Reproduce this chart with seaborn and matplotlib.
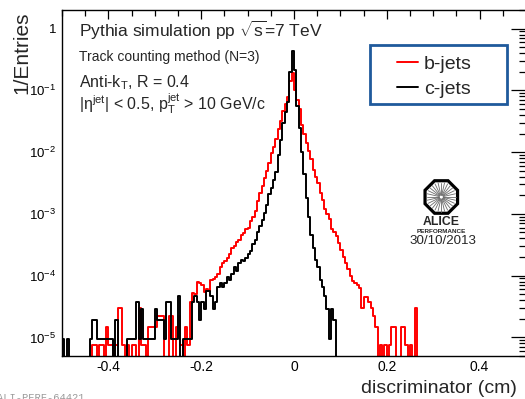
import numpy as np
import pandas as pd
import matplotlib
matplotlib.use("Agg")
import matplotlib.pyplot as plt
import seaborn as sns
from matplotlib.patches import Rectangle, RegularPolygon
from matplotlib.ticker import FixedLocator, FixedFormatter, MultipleLocator, LogLocator, NullFormatter

# ---------------------------------------------------------------- data
# Track-counting discriminator, 200 bins of 0.005 cm between -0.5 and 0.5,
# each histogram normalised to its number of entries.
x_range = (-0.5, 0.5)
n_bins = 200

b_jets = [
    0, 0, 0, 0, 0, 0, 0, 0, 0, 0,
    0, 0, 0, 7.5e-6, 7.5e-6, 0, 7.5e-6, 7.5e-6, 0, 1.5e-5,
    7.5e-6, 7.5e-6, 0, 7.5e-6, 3.0e-5, 3.0e-5, 7.5e-6, 0, 7.5e-6, 0,
    7.5e-6, 7.5e-6, 0, 3.0e-5, 7.5e-6, 7.5e-6, 0, 1.5e-5, 1.5e-5, 1.5e-5,
    1.5e-5, 2.25e-5, 2.25e-5, 2.25e-5, 0, 0, 2.25e-5, 2.25e-5, 0, 1.5e-5,
    2.25e-5, 7.5e-6, 0, 1.5e-5, 7.5e-6, 3.75e-5, 5.2e-5, 5.0e-5, 7.9e-5, 7.6e-5,
    7.1e-5, 5.5e-5, 6.0e-5, 5.6e-5, 8.5e-5, 8.9e-5, 9.5e-5, 1.05e-4, 1.4e-4, 1.6e-4,
    1.75e-4, 1.9e-4, 2.2e-4, 2.8e-4, 3.0e-4, 3.5e-4, 3.8e-4, 4.5e-4, 4.9e-4, 5.6e-4,
    6.0e-4, 7.6e-4, 8.9e-4, 1.1e-3, 1.6e-3, 2.2e-3, 2.8e-3, 3.8e-3, 5.0e-3, 6.6e-3,
    9.5e-3, 1.2e-2, 1.66e-2, 2.4e-2, 3.2e-2, 4.7e-2, 6.0e-2, 7.9e-2, 0.14, 0.19,
    0.10, 7.1e-2, 5.0e-2, 2.8e-2, 2.0e-2, 1.4e-2, 1.05e-2, 7.6e-3, 5.2e-3, 4.0e-3,
    3.2e-3, 2.2e-3, 1.66e-3, 1.2e-3, 1.0e-3, 8.3e-4, 5.6e-4, 5.0e-4, 4.4e-4, 3.4e-4,
    2.6e-4, 2.0e-4, 1.6e-4, 1.3e-4, 1.0e-4, 8.3e-5, 7.6e-5, 7.1e-5, 6.3e-5, 3.0e-5,
    4.5e-5, 4.5e-5, 3.75e-5, 3.0e-5, 2.25e-5, 1.5e-5, 0, 7.5e-6, 0, 7.5e-6,
    0, 7.5e-6, 1.5e-5, 1.5e-5, 0, 0, 1.5e-5, 1.5e-5, 7.5e-6, 0,
    7.5e-6, 0, 3.0e-5, 0, 0, 0, 0, 0, 0, 0,
] + [0] * 40

c_jets = [
    9.5e-6, 0, 9.5e-6, 0, 0, 0, 0, 0, 0, 0,
    0, 0, 9.5e-6, 1.9e-5, 1.9e-5, 9.5e-6, 9.5e-6, 9.5e-6, 9.5e-6, 9.5e-6,
    9.5e-6, 9.5e-6, 0, 1.9e-5, 0, 0, 0, 0, 9.5e-6, 9.5e-6,
    9.5e-6, 9.5e-6, 3.8e-5, 9.5e-6, 2.85e-5, 9.5e-6, 9.5e-6, 9.5e-6, 9.5e-6, 9.5e-6,
    2.85e-5, 1.9e-5, 1.9e-5, 1.9e-5, 9.5e-6, 3.8e-5, 3.8e-5, 9.5e-6, 9.5e-6, 9.5e-6,
    4.75e-5, 0, 9.5e-6, 9.5e-6, 9.5e-6, 9.5e-6, 3.8e-5, 4.75e-5, 3.8e-5, 1.9e-5,
    3.8e-5, 2.85e-5, 5.7e-5, 5.7e-5, 4.75e-5, 2.85e-5, 3.8e-5, 6.65e-5, 7.6e-5, 6.65e-5,
    7.6e-5, 9.5e-5, 8.6e-5, 1.05e-4, 1.4e-4, 1.2e-4, 1.6e-4, 1.8e-4, 1.7e-4, 1.9e-4,
    2.2e-4, 2.5e-4, 3.2e-4, 3.8e-4, 5.0e-4, 6.3e-4, 7.9e-4, 1.05e-3, 1.4e-3, 2.1e-3,
    2.6e-3, 3.5e-3, 4.7e-3, 8.9e-3, 1.6e-2, 3.0e-2, 4.5e-2, 6.5e-2, 0.20, 0.44,
    0.21, 5.6e-2, 2.5e-2, 1.0e-2, 4.5e-3, 1.8e-3, 8.9e-4, 4.5e-4, 2.8e-4, 1.8e-4,
    1.4e-4, 8.6e-5, 6.65e-5, 4.75e-5, 2.85e-5, 9.5e-6, 2.85e-5, 1.9e-5, 0, 0,
] + [0] * 80

series_names = ["b-jets", "c-jets"]
series_colors = ["#ff0000", "#000000"]

x_tick_values = [-0.4, -0.2, 0.0, 0.2, 0.4]
x_tick_labels = ["-0.4", "-0.2", "0", "0.2", "0.4"]
y_tick_values = [1e-5, 1e-4, 1e-3, 1e-2, 1e-1, 1.0]
y_tick_labels = [r"$\mathregular{10^{-5}}$", r"$\mathregular{10^{-4}}$",
                 r"$\mathregular{10^{-3}}$", r"$\mathregular{10^{-2}}$",
                 r"$\mathregular{10^{-1}}$", "1"]

# ---------------------------------------------------------------- style
sns.set_theme(style="white")
plt.rcParams.update({
    "font.family": ["Liberation Sans", "DejaVu Sans"],
    "mathtext.fontset": "custom",
    "mathtext.rm": "Liberation Sans",
    "mathtext.it": "Liberation Sans:italic",
    "mathtext.bf": "Liberation Sans:bold",
    "axes.edgecolor": "black",
    "axes.linewidth": 1.0,
    "xtick.direction": "in",
    "ytick.direction": "in",
    "xtick.top": True,
    "ytick.right": True,
    "xtick.color": "black",
    "ytick.color": "black",
})

W, H = 525, 399


def P(px, py):
    """Pixel position (from top-left) to figure fraction."""
    return px / W, 1 - py / H


fig = plt.figure(figsize=(W / 100, H / 100), dpi=100)
fig.patch.set_facecolor("white")
ax = fig.add_axes([62 / W, 43 / H, 464 / W, 346 / H])
ax.set_facecolor("white")

edges = np.linspace(x_range[0], x_range[1], n_bins + 1)
centers = 0.5 * (edges[:-1] + edges[1:])
df = pd.DataFrame({
    "discriminator": np.concatenate([centers, centers]),
    "value": np.concatenate([b_jets, c_jets]),
    "flavour": np.repeat(series_names, n_bins),
})

for name, color in zip(series_names, series_colors):
    sub = df[df["flavour"] == name]
    sns.histplot(data=sub, x="discriminator", weights="value", bins=n_bins,
                 binrange=x_range, element="step", fill=False, color=color,
                 linewidth=1.4, label=name, ax=ax)

ax.set_yscale("log")
ax.set_xlim(*x_range)
ax.set_ylim(5e-6, 2.0)
ax.set_xlabel("")
ax.set_ylabel("")

# ticks
ax.xaxis.set_major_locator(FixedLocator(x_tick_values))
ax.xaxis.set_major_formatter(FixedFormatter(x_tick_labels))
ax.xaxis.set_minor_locator(MultipleLocator(0.05))
ax.yaxis.set_major_locator(FixedLocator(y_tick_values))
ax.yaxis.set_major_formatter(FixedFormatter(y_tick_labels))
ax.yaxis.set_minor_locator(LogLocator(base=10, subs=np.arange(2, 10), numticks=20))
ax.yaxis.set_minor_formatter(NullFormatter())
ax.tick_params(axis="x", which="major", length=6.5, width=0.9, labelsize=10, pad=3)
ax.tick_params(axis="x", which="minor", length=4.5, width=0.9)
ax.tick_params(axis="y", which="major", length=10.5, width=0.9, labelsize=9.5, pad=4)
ax.tick_params(axis="y", which="minor", length=5, width=0.9)
for s in ax.spines.values():
    s.set_linewidth(1.0)
    s.set_color("black")

# axis titles
fig.text(*P(21.5, 12), "1/Entries", rotation=90, ha="center", va="top", fontsize=15)
fig.text(*P(517, 393), "discriminator (cm)", ha="right", va="baseline", fontsize=14)

# annotations
fig.text(*P(79, 37), r"Pythia simulation pp $\sqrt{\mathregular{s}}$=7 TeV",
         fontsize=12.5, va="baseline")
fig.text(*P(79, 60.5), "Track counting method (N=3)", fontsize=10, va="baseline")
fig.text(*P(79, 87), r"Anti-k$_\mathregular{T}$, R = 0.4", fontsize=11.5, va="baseline")
fig.text(*P(79, 110), r"|$\mathregular{\eta^{jet}}$| < 0.5, $\mathregular{p_T^{jet}}$ > 10 GeV/c",
         fontsize=11.5, va="baseline")

# legend box
ax.add_patch(Rectangle(P(370, 104), 137 / W, 59 / H, transform=fig.transFigure,
                       facecolor="white", edgecolor="#1f5a9c", linewidth=2.0,
                       zorder=4, clip_on=False))
leg = ax.legend(frameon=False, fontsize=14, handlelength=1.1, handletextpad=0.3,
                labelspacing=0.4, borderpad=0, loc="center left",
                bbox_to_anchor=P(387, 76.5), bbox_transform=fig.transFigure)
leg.set_zorder(6)

# ALICE performance logo
lax = fig.add_axes([420.8 / W, 1 - 217.5 / H, 41 / W, 41 / H])
lax.set_xlim(-20.5, 20.5)
lax.set_ylim(-20.5, 20.5)
lax.axis("off")
for ang in np.linspace(0, 2 * np.pi, 28, endpoint=False):
    lax.plot([2.0 * np.cos(ang), 14.5 * np.cos(ang)],
             [2.0 * np.sin(ang), 14.5 * np.sin(ang)],
             color="#6a6a6a", linewidth=0.6)
lax.add_patch(RegularPolygon((0, 0), 8, radius=17.6, orientation=np.pi / 8,
                             fill=False, edgecolor="black", linewidth=2.3))
fig.text(*P(441.3, 222.3), "ALICE", ha="center", va="center", fontsize=8.8,
         fontweight="bold")
fig.text(*P(441.3, 231.5), "PERFORMANCE", ha="center", va="center", fontsize=4.6,
         fontweight="bold")
fig.text(*P(443, 240.5), "30/10/2013", ha="center", va="center", fontsize=9.6)

# figure id
fig.text(*P(-3, 393), "ALI-PERF-64421", ha="left", va="top", fontsize=7.5,
         family="Liberation Mono", color="#9a9a9a")

fig.savefig("out.png", dpi=100, facecolor="white")
